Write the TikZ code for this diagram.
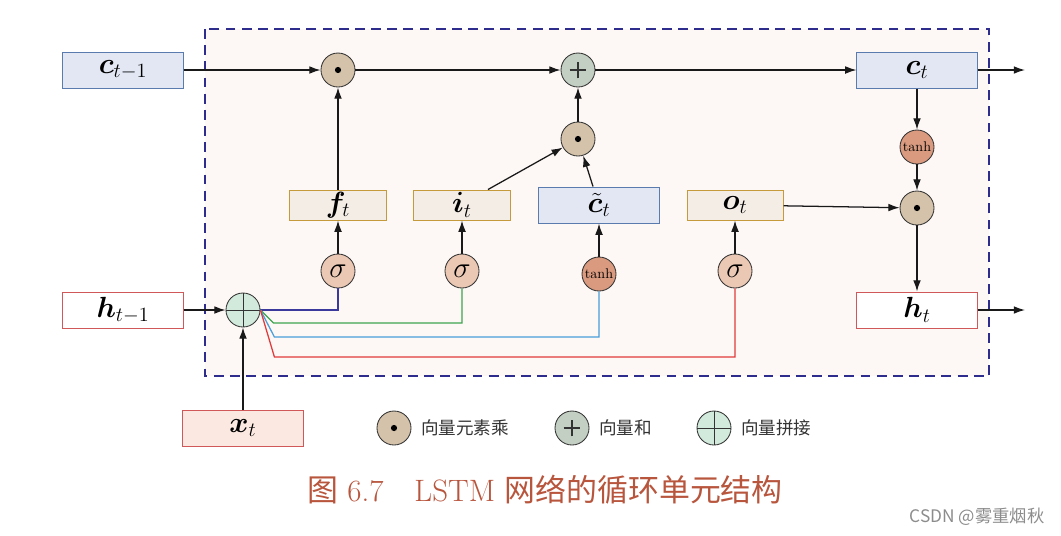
\documentclass[tikz,border=0pt]{standalone}
\usepackage{fontspec}
\usepackage{amsmath,bm}
\newfontfamily\cjkfont{Noto Sans CJK SC}
\usetikzlibrary{arrows.meta,calc,positioning}

\definecolor{cfill}{HTML}{E2E7F3}
\definecolor{cdraw}{HTML}{5A7BAE}
\definecolor{hdraw}{HTML}{D05858}
\definecolor{xfill}{HTML}{FBE8E1}
\definecolor{gfill}{HTML}{F4EDE6}
\definecolor{gdraw}{HTML}{C49A3A}
\definecolor{mfill}{HTML}{D4C2AA}
\definecolor{afill}{HTML}{C3CFC2}
\definecolor{kfill}{HTML}{D2EADB}
\definecolor{sfill}{HTML}{EBC8B4}
\definecolor{tfill}{HTML}{DA9A7F}
\definecolor{cellfill}{HTML}{FDF8F6}
\definecolor{celldraw}{HTML}{2E2C8C}
\definecolor{fcol}{HTML}{3B3A9C}
\definecolor{icol}{HTML}{3DA450}
\definecolor{ccol}{HTML}{4A9ED9}
\definecolor{ocol}{HTML}{E03A3A}
\definecolor{capcol}{HTML}{B8553D}

\tikzset{%
  >={Latex[width=5.5pt,length=8pt]},
  % Specifications for style of nodes:
          vecbox/.style = {rectangle, draw, line width=0.7pt, inner sep=0pt,
                           minimum width=3cm, minimum height=0.9cm,
                           text centered, font=\fontsize{21}{24}\selectfont},
       cellstate/.style = {vecbox, fill=cfill, draw=cdraw},
          hidden/.style = {vecbox, fill=white, draw=hdraw},
        inputbox/.style = {vecbox, fill=xfill, draw=hdraw},
         gatebox/.style = {vecbox, minimum width=2.4cm, minimum height=0.75cm,
                           fill=gfill, draw=gdraw},
              op/.style = {circle, draw=black!80, line width=0.6pt,
                           minimum size=0.85cm, inner sep=0pt},
          multop/.style = {op, fill=mfill, path picture={
                           \fill[black] (path picture bounding box.center) circle (2.2pt);}},
           addop/.style = {op, fill=afill, path picture={
                           \draw[line width=1pt]
                             ([xshift=-0.21cm]path picture bounding box.center) -- ([xshift=0.21cm]path picture bounding box.center)
                             ([yshift=-0.21cm]path picture bounding box.center) -- ([yshift=0.21cm]path picture bounding box.center);}},
           catop/.style = {op, fill=kfill, path picture={
                           \draw[line width=0.6pt]
                             (path picture bounding box.north) -- (path picture bounding box.south)
                             (path picture bounding box.west) -- (path picture bounding box.east);}},
           sigop/.style = {op, fill=sfill, font=\fontsize{21}{24}\selectfont},
          tanhop/.style = {op, fill=tfill, font=\fontsize{10}{12}\selectfont},
            flow/.style = {->, line width=0.9pt, black!90},
            feed/.style = {line width=0.9pt},
          legend/.style = {anchor=west, font=\cjkfont\fontsize{12.5}{14}\selectfont, text=black!80},
}

\begin{document}
\begin{tikzpicture}[x=0.025cm, y=-0.025cm]
  \useasboundingbox (0,0) rectangle (1061,535);

  % cell frame
  \draw[draw=celldraw, fill=cellfill, line width=1.8pt, dash pattern=on 7pt off 4.5pt]
       (205,29) rectangle (989,376);

  % states and inputs
  \node (cprev) [cellstate] at (123,70)  {$\bm{c}_{t-1}$};
  \node (hprev) [hidden]    at (123,310) {$\bm{h}_{t-1}$};
  \node (xt)    [inputbox]  at (243,428) {$\bm{x}_t$};
  \node (ct)    [cellstate] at (917,70)  {$\bm{c}_t$};
  \node (ht)    [hidden]    at (917,310) {$\bm{h}_t$};

  % gates
  \node (ft)    [gatebox]   at (338,205) {$\bm{f}_t$};
  \node (it)    [gatebox]   at (462,205) {$\bm{i}_t$};
  \node (ctil)  [cellstate] at (599,205) {$\tilde{\bm{c}}_t$};
  \node (ot)    [gatebox]   at (735,205) {$\bm{o}_t$};

  % operators
  \node (m1)    [multop]    at (338,70)  {};
  \node (add)   [addop]     at (578,70)  {};
  \node (m2)    [multop]    at (578,139) {};
  \node (tc)    [tanhop]    at (917,147) {tanh};
  \node (m3)    [multop]    at (917,208) {};
  \node (cat)   [catop]     at (243,310) {};

  \node (sf)    [sigop]     at (338,271) {$\sigma$};
  \node (si)    [sigop]     at (462,271) {$\sigma$};
  \node (sc)    [tanhop]    at (599,274) {tanh};
  \node (so)    [sigop]     at (735,271) {$\sigma$};

  \coordinate (cout) at (1025,70);
  \coordinate (hout) at (1025,310);

  % cell state path
  \draw[flow] (cprev) -- (m1);
  \draw[flow] (m1)    -- (add);
  \draw[flow] (add)   -- (ct);
  \draw[flow] (ct)    -- (cout);
  \draw[flow] (ft)    -- (m1);
  \draw[flow] (m2)    -- (add);
  \draw[flow] ($ (it.north) + (26,0) $)   -- (m2);
  \draw[flow] ($ (ctil.north) + (-6,0) $) -- (m2);

  % activations
  \draw[flow] (sf) -- (ft);
  \draw[flow] (si) -- (it);
  \draw[flow] (sc) -- (ctil);
  \draw[flow] (so) -- (ot);

  % output path
  \draw[flow] (ct) -- (tc);
  \draw[flow] (tc) -- (m3);
  \draw[flow] (ot) -- (m3);
  \draw[flow] (m3) -- (ht);
  \draw[flow] (ht) -- (hout);

  % inputs
  \draw[flow] (hprev) -- (cat);
  \draw[flow] (xt)    -- (cat);

  % feeds from the concatenation
  \draw[feed, fcol] (cat.east) -| (sf.south);
  \draw[feed, icol] (cat.east) -- ++(13,13) -| (si.south);
  \draw[feed, ccol] (cat.east) -- ++(14,27) -| (sc.south);
  \draw[feed, ocol] (cat.east) -- ++(14,47) -| (so.south);

  % legend
  \node (lgm) [multop] at (394,428) {};
  \node (lgmt) [legend, right=0.12cm of lgm] {向量元素乘};
  \node (lga) [addop]  at (572,428) {};
  \node (lgat) [legend, right=0.12cm of lga] {向量和};
  \node (lgk) [catop]  at (714,428) {};
  \node (lgkt) [legend, right=0.12cm of lgk] {向量拼接};

  % caption
  \node (caption) [text=capcol, font=\fontsize{22}{26}\selectfont] at (545,490)
       {{\cjkfont 图} 6.7\quad LSTM {\cjkfont 网络的循环单元结构}};
  \node (mark) [text=black!45, font=\cjkfont\fontsize{12.3}{14}\selectfont] at (977,517)
       {CSDN @雾重烟秋};
\end{tikzpicture}
\end{document}
